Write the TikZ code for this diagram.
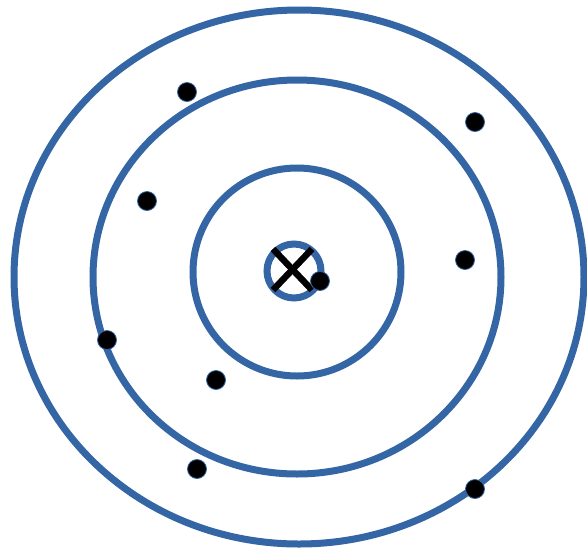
\documentclass[tikz,border=0pt]{standalone}
\definecolor{ringblue}{RGB}{52,101,164}
\tikzset{
  ring/.style={draw=ringblue, line width=7pt},
  dot/.style={circle, fill=black, draw=ringblue, line width=0.8pt, minimum size=19pt, inner sep=0pt},
  cross/.style={line width=6.5pt, black}
}
\begin{document}
\begin{tikzpicture}[x=1pt,y=-1pt]
\useasboundingbox (0,0) rectangle (587,550);
\draw[ring] (299,277) ellipse [x radius=285, y radius=267];
\draw[ring] (297,277) ellipse [x radius=204, y radius=197];
\draw[ring] (297,272) circle [radius=104];
\draw[ring] (294,271) circle [radius=27];
\coordinate (x1) at (273,249);
\coordinate (x2) at (312,290);
\coordinate (x3) at (312,249);
\coordinate (x4) at (273,290);
\draw[cross] (x1) -- (x2);
\draw[cross] (x3) -- (x4);
\node[dot] (d1) at (187,92) {};
\node[dot] (d2) at (475,122) {};
\node[dot] (d3) at (147,201) {};
\node[dot] (d4) at (465,260) {};
\node[dot] (d5) at (320,281) {};
\node[dot] (d6) at (107,340) {};
\node[dot] (d7) at (216,380) {};
\node[dot] (d8) at (197,469) {};
\node[dot] (d9) at (475,489) {};
\end{tikzpicture}
\end{document}
